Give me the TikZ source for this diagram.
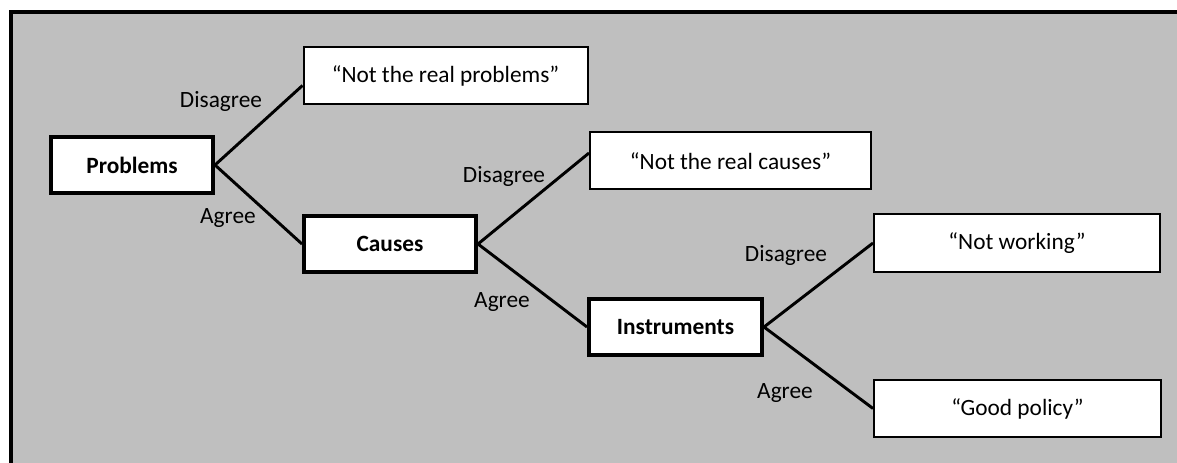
\documentclass[tikz,border=0pt]{standalone}
\usepackage{fontspec}
\setmainfont{Carlito}
\usetikzlibrary{positioning}
\definecolor{bggray}{RGB}{191,191,191}

\begin{document}
\begin{tikzpicture}[x=0.75pt, y=-0.75pt, font=\fontsize{17.5}{21}\selectfont,
  box/.style={draw=black, fill=white, line width=1.5pt, minimum height=42.75pt, inner sep=0pt},
  key/.style={box, line width=3pt, minimum height=42pt, font=\fontsize{17.5}{21}\selectfont\bfseries},
  link/.style={draw=black, line width=2.2pt},
  lbl/.style={inner sep=1pt}]
\useasboundingbox (0,0) rectangle (1177,463);
\fill[bggray] (10,12) rectangle (1177,463);
\draw[line width=3pt] (10.5,463) -- (10.5,12.5) -- (1177,12.5);
\node[key, minimum width=121.5pt] (prob) at (132,165) {Problems};
\node[box, minimum width=213pt] (npr) at (445.5,75.5) {“Not the real problems”};
\node[key, minimum width=129pt] (caus) at (390,244) {Causes};
\node[box, minimum width=210.75pt] (ncaus) at (730.5,161) {“Not the real causes”};
\node[key, minimum width=129.75pt] (instr) at (675.5,327) {Instruments};
\node[box, minimum width=214.5pt] (nwork) at (1017,243) {“Not working”};
\node[box, minimum width=215.25pt] (good) at (1017.5,408.5) {“Good policy”};
\node[lbl] (dis1) at (221,101) {Disagree};
\node[lbl] (agr1) at (228,218) {Agree};
\node[lbl] (dis2) at (504,176) {Disagree};
\node[lbl] (agr2) at (502,302) {Agree};
\node[lbl] (dis3) at (786,255) {Disagree};
\node[lbl] (agr3) at (785,393) {Agree};
\draw[link] (prob.east) -- ([yshift=-7.5pt]npr.west);
\draw[link] (caus.east) -- ([yshift=6pt]ncaus.west);
\foreach \u/\v in {prob/caus, caus/instr, instr/nwork, instr/good} \draw[link] (\u.east) -- (\v.west);
\end{tikzpicture}
\end{document}
